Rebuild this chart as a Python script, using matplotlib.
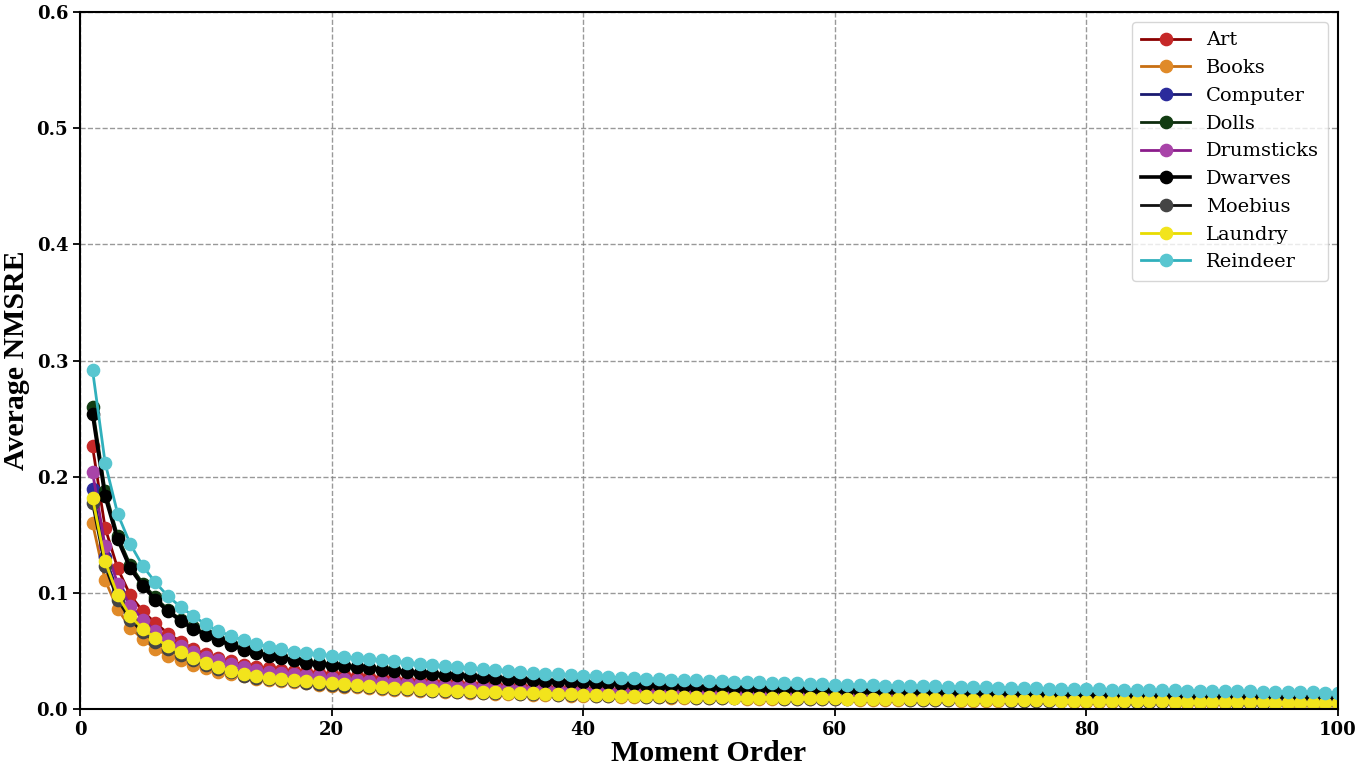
import numpy as np
import matplotlib
matplotlib.use("Agg")
import matplotlib.pyplot as plt

order = np.arange(1, 101)

art = [0.226, 0.156, 0.121, 0.098, 0.084, 0.074, 0.065, 0.058, 0.052, 0.047,
       0.044, 0.041, 0.038, 0.0365, 0.035, 0.034, 0.033, 0.032, 0.031, 0.030,
       0.029, 0.028, 0.0272, 0.0264, 0.0256, 0.0249, 0.0242, 0.0236, 0.023, 0.0224,
       0.0218, 0.0212, 0.0207, 0.0202, 0.0197, 0.0192, 0.0187, 0.0182, 0.0178, 0.0174,
       0.017, 0.0166, 0.0163, 0.016, 0.0157, 0.0154, 0.0151, 0.0148, 0.0146, 0.0144,
       0.0142, 0.014, 0.0138, 0.0136, 0.0134, 0.0132, 0.013, 0.0128, 0.0127, 0.0126,
       0.0124, 0.0123, 0.0122, 0.0121, 0.012, 0.0119, 0.0118, 0.0117, 0.0116, 0.0115,
       0.0114, 0.0113, 0.0112, 0.0111, 0.011, 0.0109, 0.0108, 0.0107, 0.0106, 0.0105,
       0.0104, 0.0103, 0.0102, 0.0101, 0.010, 0.0099, 0.0098, 0.0097, 0.0096, 0.0095,
       0.0094, 0.0093, 0.0092, 0.0091, 0.009, 0.0089, 0.0088, 0.0087, 0.0086, 0.0085]

books = [0.160, 0.111, 0.086, 0.070, 0.060, 0.052, 0.046, 0.042, 0.038, 0.035,
         0.032, 0.030, 0.028, 0.026, 0.025, 0.024, 0.023, 0.022, 0.021, 0.020,
         0.0193, 0.0186, 0.0179, 0.0173, 0.0167, 0.0162, 0.0157, 0.0152, 0.0148, 0.0144,
         0.014, 0.0136, 0.0132, 0.0129, 0.0126, 0.0123, 0.012, 0.0117, 0.0114, 0.0112,
         0.011, 0.0108, 0.0106, 0.0104, 0.0102, 0.010, 0.0098, 0.0096, 0.0094, 0.0093,
         0.0092, 0.0091, 0.009, 0.0089, 0.0088, 0.0087, 0.0086, 0.0085, 0.0084, 0.0083,
         0.0082, 0.0081, 0.008, 0.0079, 0.0078, 0.0077, 0.0076, 0.0075, 0.0074, 0.0073,
         0.0072, 0.0071, 0.007, 0.0069, 0.0068, 0.0067, 0.0066, 0.0065, 0.0064, 0.0063,
         0.0062, 0.0061, 0.006, 0.0059, 0.0058, 0.0057, 0.0056, 0.0055, 0.0054, 0.0053,
         0.0052, 0.0051, 0.005, 0.0049, 0.0048, 0.0047, 0.0046, 0.0045, 0.0044, 0.0043]

computer = [0.189, 0.131, 0.101, 0.083, 0.071, 0.063, 0.056, 0.050, 0.045, 0.041,
            0.037, 0.034, 0.031, 0.029, 0.0275, 0.0265, 0.0255, 0.0245, 0.0235, 0.0225,
            0.0217, 0.0209, 0.0202, 0.0195, 0.0189, 0.0183, 0.0177, 0.0172, 0.0167, 0.0162,
            0.0158, 0.0154, 0.015, 0.0146, 0.0143, 0.014, 0.0137, 0.0134, 0.0131, 0.0128,
            0.0125, 0.0123, 0.0121, 0.0119, 0.0117, 0.0115, 0.0113, 0.0111, 0.0109, 0.0107,
            0.0105, 0.0104, 0.0103, 0.0102, 0.0101, 0.010, 0.0099, 0.0098, 0.0097, 0.0096,
            0.0095, 0.0094, 0.0093, 0.0092, 0.0091, 0.009, 0.0089, 0.0088, 0.0087, 0.0086,
            0.0085, 0.0084, 0.0083, 0.0082, 0.0081, 0.008, 0.0079, 0.0078, 0.0077, 0.0076,
            0.0075, 0.0074, 0.0073, 0.0072, 0.0071, 0.007, 0.0069, 0.0068, 0.0067, 0.0066,
            0.0065, 0.0064, 0.0063, 0.0062, 0.0061, 0.006, 0.0059, 0.0058, 0.0057, 0.0056]

dolls = [0.260, 0.188, 0.149, 0.124, 0.108, 0.096, 0.0855, 0.077, 0.0705, 0.065,
         0.060, 0.056, 0.052, 0.049, 0.0465, 0.0445, 0.0425, 0.0405, 0.0393, 0.0382,
         0.0372, 0.0362, 0.0352, 0.0342, 0.0332, 0.0322, 0.0312, 0.0302, 0.0296, 0.029,
         0.0281, 0.0276, 0.027, 0.0261, 0.0256, 0.025, 0.0245, 0.024, 0.0235, 0.023,
         0.0225, 0.022, 0.0216, 0.0212, 0.0208, 0.0204, 0.020, 0.0196, 0.0193, 0.019,
         0.0187, 0.0184, 0.0181, 0.0178, 0.0175, 0.0172, 0.017, 0.0167, 0.0165, 0.0163,
         0.016, 0.0158, 0.0156, 0.0154, 0.0152, 0.015, 0.0148, 0.0146, 0.0144, 0.0142,
         0.014, 0.0138, 0.0136, 0.0134, 0.0132, 0.013, 0.0129, 0.0127, 0.0126, 0.0124,
         0.0123, 0.0122, 0.012, 0.0119, 0.0118, 0.0117, 0.0116, 0.0115, 0.0114, 0.0113,
         0.0112, 0.0111, 0.011, 0.0109, 0.0108, 0.0107, 0.0106, 0.0105, 0.0104, 0.0103]

drumsticks = [0.204, 0.140, 0.108, 0.089, 0.077, 0.067, 0.060, 0.054, 0.049, 0.045,
              0.042, 0.039, 0.036, 0.034, 0.032, 0.031, 0.030, 0.029, 0.028, 0.027,
              0.026, 0.025, 0.0243, 0.0236, 0.0229, 0.0222, 0.0216, 0.021, 0.0204, 0.0199,
              0.0194, 0.0189, 0.0184, 0.018, 0.0176, 0.0172, 0.0168, 0.0164, 0.016, 0.0157,
              0.0154, 0.0151, 0.0148, 0.0145, 0.0142, 0.014, 0.0138, 0.0136, 0.0134, 0.0132,
              0.013, 0.0128, 0.0126, 0.0124, 0.0122, 0.012, 0.0119, 0.0118, 0.0117, 0.0116,
              0.0115, 0.0114, 0.0113, 0.0112, 0.0111, 0.011, 0.0109, 0.0108, 0.0107, 0.0106,
              0.0105, 0.0104, 0.0103, 0.0102, 0.0101, 0.010, 0.0099, 0.0098, 0.0097, 0.0096,
              0.0095, 0.0094, 0.0093, 0.0092, 0.0091, 0.009, 0.0089, 0.0088, 0.0087, 0.0086,
              0.0085, 0.0085, 0.0084, 0.0084, 0.0083, 0.0083, 0.0082, 0.0082, 0.0081, 0.0081]

dwarves = [0.254, 0.183, 0.146, 0.121, 0.106, 0.094, 0.084, 0.076, 0.069, 0.064,
           0.059, 0.055, 0.051, 0.048, 0.046, 0.044, 0.042, 0.040, 0.039, 0.038,
           0.037, 0.036, 0.035, 0.034, 0.033, 0.032, 0.031, 0.030, 0.0295, 0.029,
           0.028, 0.0275, 0.027, 0.026, 0.0255, 0.025, 0.0245, 0.024, 0.0235, 0.023,
           0.0225, 0.022, 0.0216, 0.0212, 0.0208, 0.0204, 0.020, 0.0196, 0.0193, 0.019,
           0.0187, 0.0184, 0.0181, 0.0178, 0.0175, 0.0172, 0.017, 0.0167, 0.0165, 0.0163,
           0.016, 0.0158, 0.0156, 0.0154, 0.0152, 0.015, 0.0148, 0.0146, 0.0144, 0.0142,
           0.014, 0.0138, 0.0136, 0.0134, 0.0132, 0.013, 0.0129, 0.0127, 0.0126, 0.0124,
           0.0123, 0.0122, 0.012, 0.0119, 0.0118, 0.0117, 0.0116, 0.0115, 0.0114, 0.0113,
           0.0112, 0.0111, 0.011, 0.0109, 0.0108, 0.0107, 0.0106, 0.0105, 0.0104, 0.0103]

moebius = [0.177, 0.123, 0.094, 0.077, 0.066, 0.058, 0.0515, 0.0465, 0.042, 0.038,
           0.0345, 0.0315, 0.0287, 0.0268, 0.0258, 0.0248, 0.0238, 0.0228, 0.0219, 0.021,
           0.0202, 0.0194, 0.0187, 0.018, 0.0175, 0.0169, 0.0163, 0.0159, 0.0154, 0.0149,
           0.0145, 0.0142, 0.0138, 0.0134, 0.0131, 0.0128, 0.0125, 0.0123, 0.012, 0.0117,
           0.0114, 0.0112, 0.011, 0.0108, 0.0106, 0.0104, 0.0103, 0.0101, 0.0099, 0.0097,
           0.0095, 0.0094, 0.0093, 0.0092, 0.0091, 0.009, 0.0089, 0.0088, 0.0087, 0.0086,
           0.0085, 0.0084, 0.0083, 0.0082, 0.0082, 0.0081, 0.008, 0.0079, 0.0078, 0.0077,
           0.0076, 0.0075, 0.0074, 0.0073, 0.0072, 0.0071, 0.007, 0.0069, 0.0068, 0.0067,
           0.0066, 0.0065, 0.0064, 0.0063, 0.0062, 0.0061, 0.0061, 0.006, 0.0059, 0.0058,
           0.0057, 0.0056, 0.0055, 0.0054, 0.0053, 0.0052, 0.0051, 0.005, 0.0049, 0.0048]

laundry = [0.182, 0.127, 0.098, 0.080, 0.069, 0.061, 0.054, 0.049, 0.044, 0.040,
           0.036, 0.033, 0.030, 0.028, 0.027, 0.026, 0.025, 0.024, 0.023, 0.022,
           0.0212, 0.0204, 0.0197, 0.019, 0.0184, 0.0178, 0.0172, 0.0167, 0.0162, 0.0157,
           0.0153, 0.0149, 0.0145, 0.0141, 0.0138, 0.0135, 0.0132, 0.0129, 0.0126, 0.0123,
           0.012, 0.0118, 0.0116, 0.0114, 0.0112, 0.011, 0.0108, 0.0106, 0.0104, 0.0102,
           0.010, 0.0099, 0.0098, 0.0097, 0.0096, 0.0095, 0.0094, 0.0093, 0.0092, 0.0091,
           0.009, 0.0089, 0.0088, 0.0087, 0.0086, 0.0085, 0.0084, 0.0083, 0.0082, 0.0081,
           0.008, 0.0079, 0.0078, 0.0077, 0.0076, 0.0075, 0.0074, 0.0073, 0.0072, 0.0071,
           0.007, 0.0069, 0.0068, 0.0067, 0.0066, 0.0065, 0.0064, 0.0063, 0.0062, 0.0061,
           0.006, 0.0059, 0.0058, 0.0057, 0.0056, 0.0055, 0.0054, 0.0053, 0.0052, 0.0051]

reindeer = [0.292, 0.212, 0.168, 0.142, 0.123, 0.109, 0.097, 0.088, 0.080, 0.073,
            0.067, 0.063, 0.059, 0.056, 0.0535, 0.0515, 0.0495, 0.048, 0.047, 0.046,
            0.045, 0.044, 0.043, 0.042, 0.041, 0.040, 0.039, 0.038, 0.037, 0.036,
            0.035, 0.0345, 0.034, 0.033, 0.032, 0.031, 0.0305, 0.030, 0.029, 0.0285,
            0.028, 0.0275, 0.027, 0.0265, 0.026, 0.0257, 0.0253, 0.025, 0.0246, 0.0243,
            0.024, 0.0236, 0.0233, 0.023, 0.0226, 0.0223, 0.022, 0.0216, 0.0213, 0.021,
            0.0208, 0.0206, 0.0204, 0.0202, 0.020, 0.0198, 0.0196, 0.0194, 0.0192, 0.019,
            0.0188, 0.0186, 0.0184, 0.0182, 0.018, 0.0178, 0.0176, 0.0174, 0.0172, 0.017,
            0.0168, 0.0167, 0.0165, 0.0164, 0.0162, 0.0161, 0.016, 0.0158, 0.0157, 0.0155,
            0.0154, 0.0152, 0.0151, 0.015, 0.0148, 0.0147, 0.0145, 0.0144, 0.0142, 0.014]

names = ["Art", "Books", "Computer", "Dolls", "Drumsticks", "Dwarves", "Moebius", "Laundry", "Reindeer"]
series = [art, books, computer, dolls, drumsticks, dwarves, moebius, laundry, reindeer]
line_colors = ["#8b0000", "#c86f12", "#191970", "#0d2b0d", "#8b1c8b", "#000000", "#111111", "#e8dc00", "#30b0bc"]
face_colors = ["#c62828", "#e08a28", "#2b2b9c", "#123c12", "#a844a8", "#000000", "#444444", "#f2e41c", "#58c6d0"]

fig = plt.figure(figsize=(13.55, 7.71), dpi=100)
ax = fig.add_axes([0.059, 0.0804, 0.9285, 0.904])

for name, vals, lc, fc in zip(names, series, line_colors, face_colors):
    lw = 2.6 if name == "Dwarves" else 2
    ax.plot(order, vals, color=lc, lw=lw, marker="o", ms=8.8,
            markerfacecolor=fc, markeredgecolor=fc, label=name)

ax.set_xlim(0, 100)
ax.set_ylim(0, 0.6)
ax.set_xticks([0, 20, 40, 60, 80, 100])
ax.set_yticks([0.0, 0.1, 0.2, 0.3, 0.4, 0.5, 0.6])
ax.set_yticklabels(["0.0", "0.1", "0.2", "0.3", "0.4", "0.5", "0.6"])
ax.grid(True, ls="--", color="grey", lw=1, alpha=0.8)

for lab in ax.get_xticklabels() + ax.get_yticklabels():
    lab.set_family("DejaVu Serif")
    lab.set_fontweight("bold")
    lab.set_fontsize(13)

ax.set_xlabel("Moment Order", family="Liberation Serif", fontweight="bold", fontsize=21.5, labelpad=1)
ax.set_ylabel("Average NMSRE", family="Liberation Serif", fontweight="bold", fontsize=21.5, labelpad=5)

for s in ax.spines.values():
    s.set_linewidth(1.5)
ax.tick_params(width=1.3, length=5)

leg = ax.legend(loc="upper right", prop={"family": "DejaVu Serif", "size": 14},
                handlelength=2.5, borderpad=0.5, labelspacing=0.5, fancybox=True,
                borderaxespad=0.5)

fig.savefig("out.png", dpi=100)
